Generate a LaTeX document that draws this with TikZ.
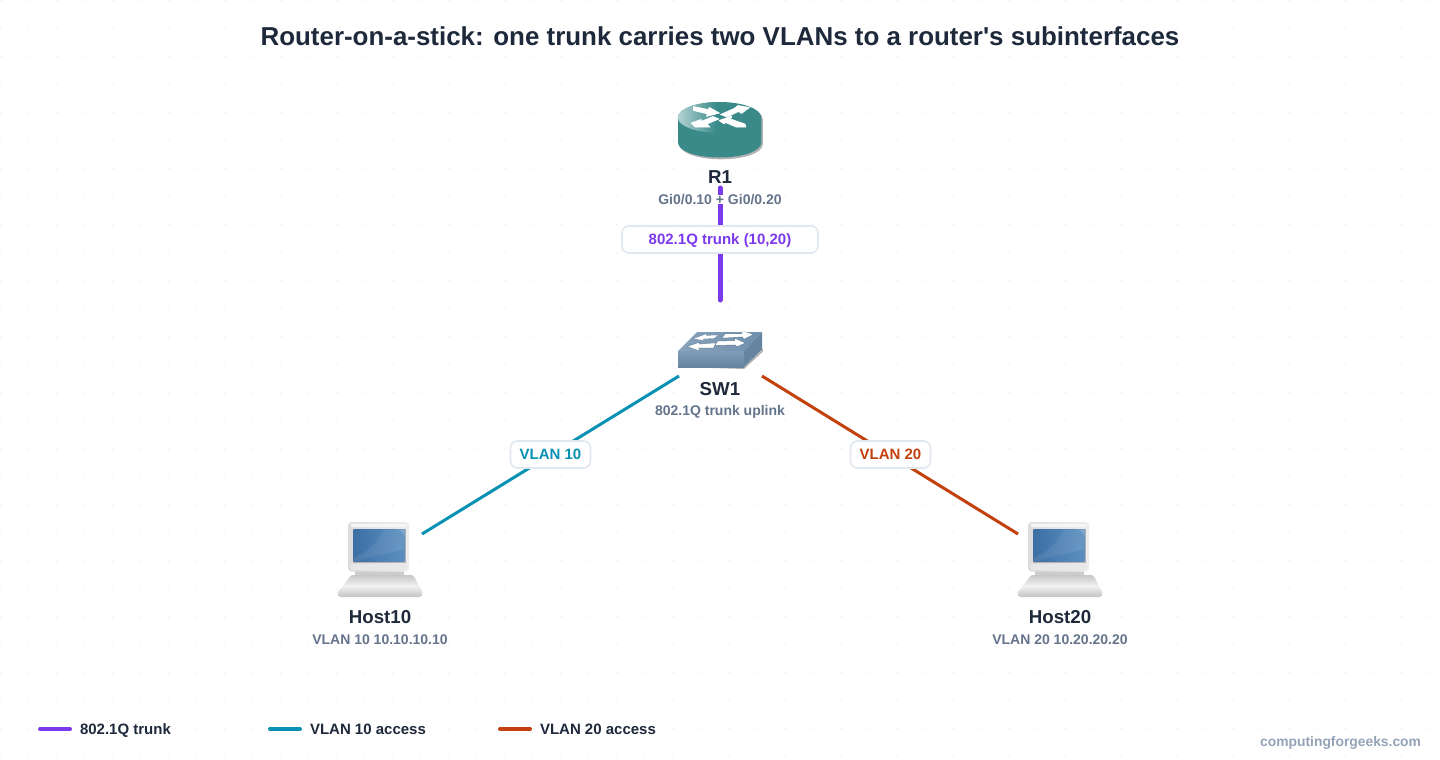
\documentclass[tikz,border=0pt]{standalone}
\usepackage{fontspec}
\setmainfont{Liberation Sans}[Ligatures=TeXOff]
\definecolor{ink}{HTML}{1E293B}
\definecolor{slatec}{HTML}{64748B}
\definecolor{trunkc}{HTML}{7C3AED}
\definecolor{vlanA}{HTML}{0891B2}
\definecolor{vlanB}{HTML}{C2410C}
\definecolor{pillb}{HTML}{E2E8F0}
\definecolor{wmc}{HTML}{94A3B8}
\definecolor{dotc}{HTML}{F0F2F6}
\definecolor{tealc}{HTML}{3A8A8A}
\definecolor{swc}{HTML}{6F8FAE}
\definecolor{scrA}{HTML}{3A6DA3}
\definecolor{scrB}{HTML}{5F92C2}
\tikzset{
  x=1pt,y=-1pt,
  every node/.style={inner sep=0pt,outer sep=0pt},
  titletext/.style={anchor=base,font=\fontsize{25.92}{30}\selectfont\bfseries,text=ink},
  devname/.style={anchor=base,font=\fontsize{18.7}{22}\selectfont\bfseries,text=ink},
  devsub/.style={anchor=base,font=\fontsize{14}{17}\selectfont\bfseries,text=slatec},
  legendtext/.style={anchor=base west,font=\fontsize{15}{17}\selectfont\bfseries,text=ink},
  pill/.style={draw=pillb,line width=1.6pt,fill=white,rounded corners=7pt,minimum height=27pt,text height=9pt,text depth=0pt,font=\fontsize{15}{17}\selectfont\bfseries},
  conn/.style={line width=3pt},
  trunkln/.style={line width=5pt,draw=trunkc,line cap=round},
  legendln/.style={line width=4pt,line cap=round},
  iconbox/.style={minimum width=84pt,minimum height=56pt},
  arroww/.style={fill=white,draw=white,line width=.6pt,line join=round},
  arrowsw/.style={fill=white,draw=white,line width=.5pt,preaction={draw=swc!45!black,line width=1.2pt,opacity=.4}},
}
\newcommand{\hosticon}[1]{%
  \begin{scope}[shift={(#1,0)}]
    % neck
    \path[fill=black!20] (-25,571) rectangle (24,576);
    % base
    \path[top color=black!22,bottom color=black!24,middle color=black!5,draw=none]
      (-27,575) -- (31,575) .. controls (33,575) and (34,576) .. (35,578) -- (42,592) .. controls (43,596) and (41,597) .. (39,597) -- (-39,597) .. controls (-41,597) and (-43,596) .. (-42,592) -- (-31,578) .. controls (-30,576) and (-29,575) .. (-27,575) -- cycle;
    % monitor
    \path[left color=black!14,right color=black!7,rounded corners=3.5pt] (-32,522) rectangle (29,571.5);
    \path[fill=black!4,rounded corners=2pt] (-29.5,523.5) rectangle (27,527);
    \path[fill=black!9] (-29,564) rectangle (26,570);
    \path[fill=black!30] (-27,528.5) rectangle (25.5,562.5);
    % screen
    \begin{scope}
      \clip (-26.3,529.7) -- (24.3,529.7) -- (24.3,561.3) -- (-26.3,561.3) -- cycle;
      \path[shading=axis,shading angle=60,left color=scrA,right color=scrB] (-30,525) rectangle (28,566);
      \path[fill=white,opacity=.08] (3,529.7) -- (24.3,529.7) -- (24.3,549) .. controls (14,553) and (-6,555) .. (-22,561.3) -- (-26.3,561.3) -- (-26.3,558) .. controls (-10,551) and (-1,541) .. cycle;
      \path[fill=white,opacity=.22] (24.3,529.7) -- (24.3,536) .. controls (23,532) and (21,530) .. (16,529.7) -- cycle;
    \end{scope}
  \end{scope}}
\begin{document}
\begin{tikzpicture}
\useasboundingbox (0,0) rectangle (1440,760);
\fill[white] (0,0) rectangle (1440,760);
\foreach \i in {0,...,51}{\foreach \j in {0,...,27}{
  \fill[dotc] ({1+28*\i},{1+28*\j}) circle (1);
}}
% named anchors
\node[iconbox] (r1) at (720,130) {};
\node[iconbox,minimum height=38pt] (sw1) at (720,350) {};
\node[iconbox,minimum height=76pt] (h10) at (380,560) {};
\node[iconbox,minimum height=76pt] (h20) at (1060,560) {};
\coordinate (r1end) at (720,188);
\coordinate (swtop) at (720,300);
\coordinate (swl) at (679,376);
\coordinate (swr) at (762,376);
\coordinate (hl) at (422,534);
\coordinate (hr) at (1018,534);
% connectors
\draw[trunkln] (r1end) -- (swtop);
\draw[conn,vlanA] (swl) -- (hl);
\draw[conn,vlanB] (swr) -- (hr);
% title
\node[titletext] (title) at (720,46) {Router-on-a-stick: one trunk carries two VLANs to a router's subinterfaces};
% router icon
\begin{scope}[shift={(1.5,1.8)}]
\path[fill=black!30] (719.6,117.5) ellipse [x radius=41.7,y radius=15.5];
\path[fill=black!30] (678,118) -- (761.3,118) -- (761.3,142.5) .. controls (761.3,151) and (743,157.5) .. (719.6,157.5) .. controls (696,157.5) and (678,151) .. (678,142.5) -- cycle;
\end{scope}
\path[fill=tealc] (678,118) -- (761.3,118) -- (761.3,142.5) .. controls (761.3,151) and (743,157.5) .. (719.6,157.5) .. controls (696,157.5) and (678,151) .. (678,142.5) -- cycle;
\path[fill=tealc] (719.6,117.5) ellipse [x radius=41.7,y radius=15.5];
\begin{scope}
  \clip (719.6,117.5) ellipse [x radius=41.7,y radius=15.5];
  \path[left color=white!62!tealc,right color=tealc,draw=none] (678,100) rectangle (716,134);
\end{scope}
% router arrows
\path[arroww] (693.5,106.5) -- (708,109.5) -- (709.5,107.5) -- (719.5,113) -- (706.5,116.5) -- (707,113.8) -- (693.5,110.5) -- cycle;
\path[arroww] (720.5,114.5) -- (734,108.5) -- (738,105.5) -- (749.5,107.5) -- (741.5,113.5) -- (738.5,111.5) -- (727,117) -- cycle;
\path[arroww] (691,123) -- (701,119.5) -- (701.5,121.3) -- (713,116.5) -- (719,119) -- (707,124) -- (710,127) -- (695,127) -- cycle;
\path[arroww] (719,120.5) -- (732,116) -- (730.5,119) -- (745,124) -- (746,127) -- (736,127) -- (725.5,122.5) -- (724,124) -- cycle;
% switch icon
\path[fill=black!30] (679,367) -- (744,369) -- (763,351.5) -- (763,349) -- (744,367) -- cycle;
\path[left color=swc!82!white,right color=swc] (697,332) -- (762,332) -- (744,351) -- (678,351) -- cycle;
\path[top color=swc!88!white,bottom color=swc!92!black] (678,351) rectangle (744,367);
\path[fill=swc!92!black] (744,351) -- (762,332) -- (762,349.5) -- (744,367) -- cycle;
\path[arrowsw] (695,338.5) -- (706,334.5) -- (705,336) -- (717,335.5) -- (714,338) -- (703,338.5) -- (703,340) -- cycle;
\path[arrowsw] (723,337.5) -- (726,334) -- (742,334) -- (743,331.5) -- (752,334.5) -- (744,338.5) -- (743,336.5) -- cycle;
\path[arrowsw] (689,346.5) -- (699,343) -- (698.5,344.5) -- (715,343.5) -- (713,347.5) -- (698,347.5) -- (698.5,350) -- cycle;
\path[arrowsw] (718,341.5) -- (735,341) -- (735,339) -- (744,343) -- (737,346) -- (736,344.5) -- (716,345) -- cycle;
% hosts
\hosticon{380}
\hosticon{1060}
% labels
\node[devname] (r1name) at (720,183) {R1};
\node[devsub,fill=white,text depth=0pt,text height=9.5pt] (r1sub) at (720,204) {Gi0/0.10 + Gi0/0.20};
\node[devname] (swname) at (720,395) {SW1};
\node[devsub] (swsub) at (720,415) {802.1Q trunk uplink};
\node[devname] (h10name) at (380,623) {Host10};
\node[devsub] (h10sub) at (380,644) {VLAN 10 10.10.10.10};
\node[devname] (h20name) at (1060,623) {Host20};
\node[devsub] (h20sub) at (1060,644) {VLAN 20 10.20.20.20};
% pills
\node[pill,text=trunkc,minimum width=196pt] (ptrunk) at (720,239.5) {802.1Q trunk (10,20)};
\node[pill,text=vlanA,minimum width=80pt] (p10) at (550.5,454.5) {VLAN 10};
\node[pill,text=vlanB,minimum width=80pt] (p20) at (890.5,454.5) {VLAN 20};
% legend
\coordinate (la1) at (40,729); \coordinate (la2) at (70,729);
\coordinate (lb1) at (270,729); \coordinate (lb2) at (300,729);
\coordinate (lc1) at (500,729); \coordinate (lc2) at (530,729);
\draw[legendln,trunkc] (la1) -- (la2);
\draw[legendln,vlanA] (lb1) -- (lb2);
\draw[legendln,vlanB] (lc1) -- (lc2);
\node[legendtext] (lta) at (80,734) {802.1Q trunk};
\node[legendtext] (ltb) at (310,734) {VLAN 10 access};
\node[legendtext] (ltc) at (540,734) {VLAN 20 access};
\node[anchor=base east,font=\fontsize{13.85}{16}\selectfont\bfseries,text=wmc] (wm) at (1421,746) {computingforgeeks.com};
\end{tikzpicture}
\end{document}
